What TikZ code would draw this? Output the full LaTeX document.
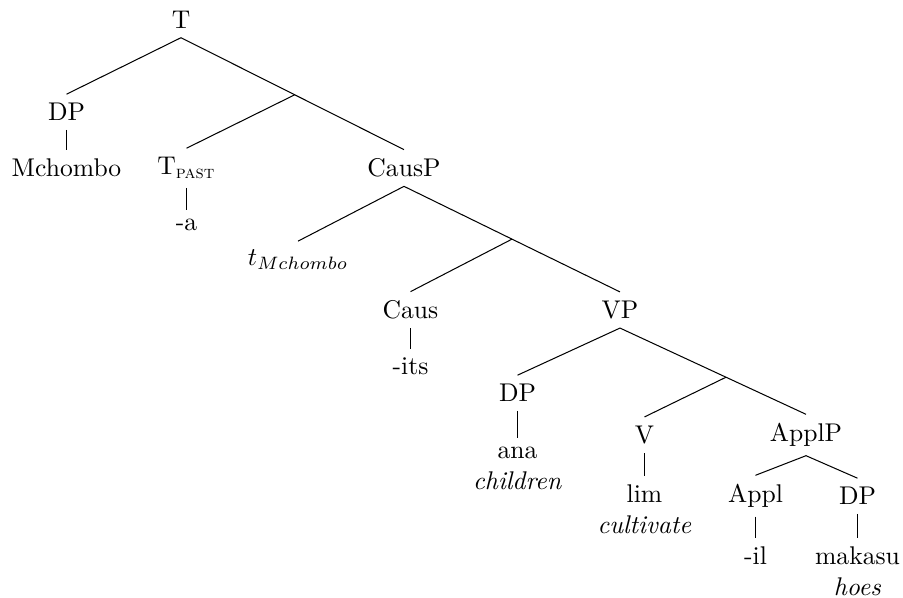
\documentclass[tikz,border=0pt]{standalone}
\usepackage{amsmath}
\usetikzlibrary{calc}

\begin{document}
\begin{tikzpicture}[x=0.3906pt,y=-0.3906pt]
    \tikzstyle{every node}=[font=\normalsize]
    \tikzstyle{leaf}=[anchor=north,align=center]
    \useasboundingbox (0,0) rectangle (903,598);

    %%% T and its daughters
    \node (t) at (181,20) {T};
    \node (dp1) at (66.5,112) {DP};
    \node (mchombo) at (66.5,168) {Mchombo};
    \node (tpast) at (186.5,168) {T$_{\text{\textsc{past}}}$};
    \node[leaf] (a) at (186.5,210) {-a};
    \node (causp) at (404,168) {CausP};
    \coordinate (tbar) at ($(t.south)!0.51!(causp.north)$);

    %%% CausP
    \node (trace) at (298,260) {$t_{Mchombo}$};
    \node (caus) at (410.5,310) {Caus};
    \node[leaf] (its) at (410.5,349) {-its};
    \node (vp) at (620,310) {VP};
    \coordinate (causbar) at ($(causp.south)!0.5!(vp.north)$);

    %%% VP
    \node (dp2) at (517.5,393) {DP};
    \node[leaf] (ana) at (517.5,438) {ana\\\textit{children}};
    \node (v) at (644.5,435) {V};
    \node[leaf] (lim) at (644.5,476) {lim\\\textit{cultivate}};
    \node (applp) at (806,435) {ApplP};
    \coordinate (vbar) at ($(vp.south)!0.57!(applp.north)$);

    %%% ApplP
    \node (appl) at (755.5,496) {Appl};
    \node[leaf] (il) at (755.5,538) {-il};
    \node (dp3) at (857.5,496) {DP};
    \node[leaf] (makasu) at (857.5,538) {makasu\\\textit{hoes}};

    %%% branches
    \draw (t.south) -- (dp1.north);
    \draw (t.south) -- (causp.north);
    \draw (tbar) -- (tpast.north);
    \draw (dp1.south) -- (mchombo.north);
    \draw (tpast.south) -- (a.north);

    \draw (causp.south) -- (trace.north);
    \draw (causp.south) -- (vp.north);
    \draw (causbar) -- (caus.north);
    \draw (caus.south) -- (its.north);

    \draw (vp.south) -- (dp2.north);
    \draw (vp.south) -- (applp.north);
    \draw (vbar) -- (v.north);
    \draw (dp2.south) -- (ana.north);
    \draw (v.south) -- (lim.north);

    \draw (applp.south) -- (appl.north);
    \draw (applp.south) -- (dp3.north);
    \draw (appl.south) -- (il.north);
    \draw (dp3.south) -- (makasu.north);
\end{tikzpicture}
\end{document}
